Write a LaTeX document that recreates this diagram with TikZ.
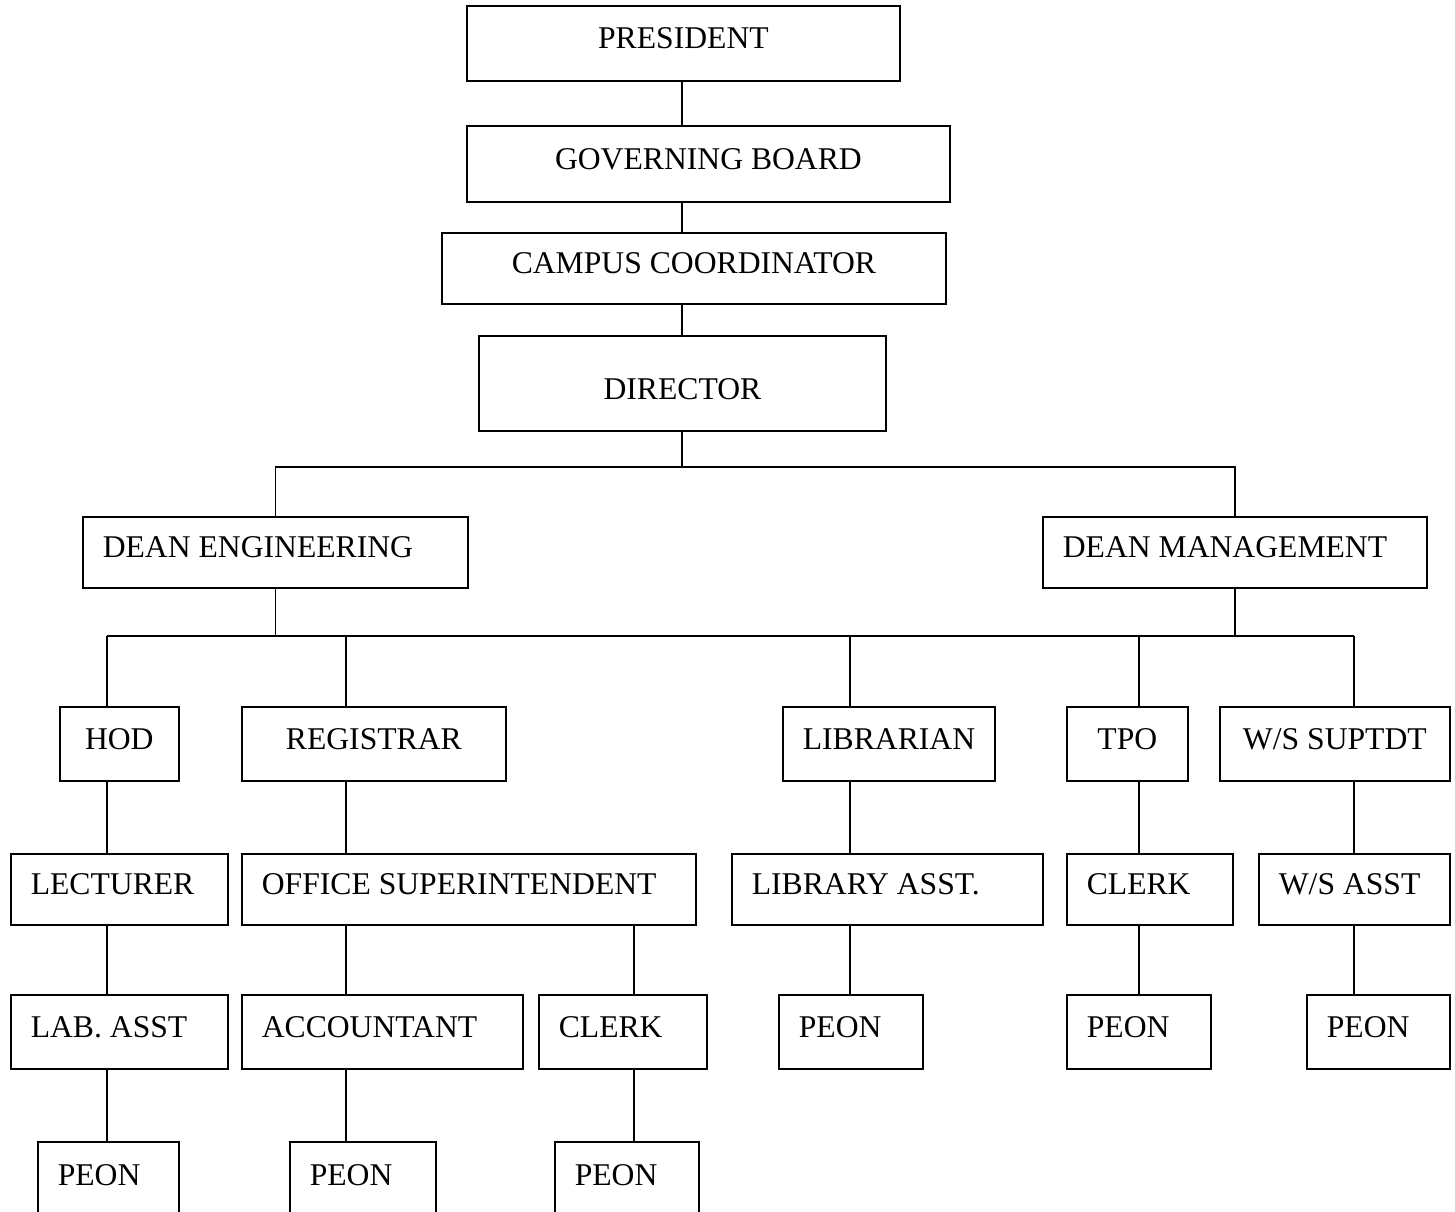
\documentclass[tikz,border=0pt]{standalone}
\usepackage{fontspec}
\setmainfont{Liberation Serif}
\usepackage{tikz}
\frenchspacing

\begin{document}
\begin{tikzpicture}[x=0.01cm,y=-0.01cm,line width=0.45pt,
    post/.style={draw,anchor=north west,inner xsep=0.2cm,inner ysep=0pt,
      text height=8pt,text depth=5pt,font=\fontsize{9}{11}\selectfont},
    lpost/.style={post,align=flush left,execute at begin node={\spaceskip=0pt\xspaceskip=0pt}}]
	\useasboundingbox (0,0) rectangle (1455,1211);

	% top of the chart
	\node[post,minimum width=4.33cm,minimum height=0.75cm] (pres) at (466,5) {PRESIDENT};
	\node[post,minimum width=4.83cm,minimum height=0.76cm] (gb) at (466,125) {GOVERNING BOARD};
	\node[post,minimum width=5.04cm,minimum height=0.71cm] (cc) at (441,232) {CAMPUS COORDINATOR};
	\node[post,minimum width=4.07cm,minimum height=0.95cm,text height=11pt,text depth=2pt] (dir) at (478,335) {DIRECTOR};

	% deans
	\node[lpost,text width=3.45cm,minimum height=0.71cm] (deng) at (82,516) {DEAN ENGINEERING};
	\node[lpost,text width=3.44cm,minimum height=0.71cm] (dmgmt) at (1042,516) {DEAN MANAGEMENT};

	% heads
	\node[post,minimum width=1.19cm,minimum height=0.74cm] (hod) at (59,706) {HOD};
	\node[post,minimum width=2.64cm,minimum height=0.74cm] (reg) at (241,706) {REGISTRAR};
	\node[post,minimum width=1.88cm,minimum height=0.74cm] (lib) at (782,706) {LIBRARIAN};
	\node[post,minimum width=1.21cm,minimum height=0.74cm] (tpo) at (1066,706) {TPO};
	\node[post,minimum width=2.30cm,minimum height=0.74cm] (wss) at (1219,706) {W/S SUPTDT};

	% staff
	\node[lpost,text width=1.77cm,minimum height=0.71cm] (lect) at (10,853) {LECTURER};
	\node[lpost,text width=4.14cm,minimum height=0.71cm] (os) at (241,853) {OFFICE SUPERINTENDENT};
	\node[lpost,text width=2.71cm,minimum height=0.71cm] (libasst) at (731,853) {LIBRARY ASST.};
	\node[lpost,text width=1.26cm,minimum height=0.71cm] (tpoclerk) at (1066,853) {CLERK};
	\node[lpost,text width=1.51cm,minimum height=0.71cm] (wsasst) at (1258,853) {W/S ASST};

	\node[lpost,text width=1.77cm,minimum height=0.74cm] (lab) at (10,994) {LAB. ASST};
	\node[lpost,text width=2.41cm,minimum height=0.74cm] (acc) at (241,994) {ACCOUNTANT};
	\node[lpost,text width=1.28cm,minimum height=0.74cm] (osclerk) at (538,994) {CLERK};
	\node[lpost,text width=1.04cm,minimum height=0.74cm] (peonlib) at (778,994) {PEON};
	\node[lpost,text width=1.04cm,minimum height=0.74cm] (peontpo) at (1066,994) {PEON};
	\node[lpost,text width=1.03cm,minimum height=0.74cm] (peonws) at (1306,994) {PEON};

	\node[lpost,text width=1.01cm,minimum height=0.76cm] (peonlab) at (37,1141) {PEON};
	\node[lpost,text width=1.06cm,minimum height=0.76cm] (peonacc) at (289,1141) {PEON};
	\node[lpost,text width=1.04cm,minimum height=0.76cm] (peoncl) at (554,1141) {PEON};

	% columns and buses
	\coordinate (spine) at (682,0);
	\coordinate (c1) at (107,0);
	\coordinate (c2) at (346,0);
	\coordinate (c3) at (634,0);
	\coordinate (c4) at (850,0);
	\coordinate (c5) at (1139,0);
	\coordinate (c6) at (1354,0);
	\coordinate (bus1) at (682,467);
	\coordinate (bus2) at (275,636);

	\draw (spine |- pres.south) -- (spine |- gb.north);
	\draw (spine |- gb.south) -- (spine |- cc.north);
	\draw (spine |- cc.south) -- (spine |- dir.north);
	\draw (spine |- dir.south) -- (bus1);
	\draw (deng.north) |- (bus1) -| (dmgmt.north);

	\draw (deng.south) -- (deng.south |- bus2);
	\draw (dmgmt.south) -- (dmgmt.south |- bus2);
	\draw (c1 |- bus2) -- (c6 |- bus2);
	\draw (c1 |- bus2) -- (c1 |- hod.north);
	\draw (c2 |- bus2) -- (c2 |- reg.north);
	\draw (c4 |- bus2) -- (c4 |- lib.north);
	\draw (c5 |- bus2) -- (c5 |- tpo.north);
	\draw (c6 |- bus2) -- (c6 |- wss.north);

	\draw (c1 |- hod.south) -- (c1 |- lect.north);
	\draw (c2 |- reg.south) -- (c2 |- os.north);
	\draw (c4 |- lib.south) -- (c4 |- libasst.north);
	\draw (c5 |- tpo.south) -- (c5 |- tpoclerk.north);
	\draw (c6 |- wss.south) -- (c6 |- wsasst.north);

	\draw (c1 |- lect.south) -- (c1 |- lab.north);
	\draw (c2 |- os.south) -- (c2 |- acc.north);
	\draw (c3 |- os.south) -- (c3 |- osclerk.north);
	\draw (c4 |- libasst.south) -- (c4 |- peonlib.north);
	\draw (c5 |- tpoclerk.south) -- (c5 |- peontpo.north);
	\draw (c6 |- wsasst.south) -- (c6 |- peonws.north);

	\draw (c1 |- lab.south) -- (c1 |- peonlab.north);
	\draw (c2 |- acc.south) -- (c2 |- peonacc.north);
	\draw (c3 |- osclerk.south) -- (c3 |- peoncl.north);
\end{tikzpicture}
\end{document}
